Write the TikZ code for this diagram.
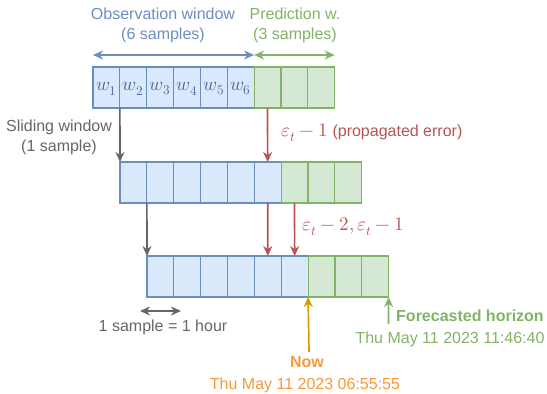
\documentclass[tikz,border=0pt]{standalone}
\usepackage{fontspec}
\setmainfont{Liberation Sans}
\usepackage{unicode-math}
\setmathfont{Latin Modern Math}
\usetikzlibrary{arrows.meta}
\definecolor{obsfill}{HTML}{DAE8FC}
\definecolor{obsline}{HTML}{6C8EBF}
\definecolor{predfill}{HTML}{D5E8D4}
\definecolor{predline}{HTML}{82B366}
\definecolor{errred}{HTML}{B85450}
\definecolor{nowline}{HTML}{D79B00}
\definecolor{nowtext}{HTML}{F59A3C}
\definecolor{greytxt}{HTML}{666666}
\definecolor{wtxt}{HTML}{4F6A9A}
\newcommand{\bigmath}[1]{{\fontsize{19}{20}\selectfont$#1$}}
\tikzset{
  cellbase/.style={minimum width=26.85pt, minimum height=41pt, inner sep=0pt, outer sep=0pt, line width=1.2pt},
  obscell/.style={cellbase, draw=obsline, fill=obsfill},
  predcell/.style={cellbase, draw=predline, fill=predfill},
  arr/.style={line width=1.7pt, -{Stealth[length=10pt,width=9pt]}},
  dblarr/.style={line width=1.7pt, {Stealth[length=10pt,width=9pt]}-{Stealth[length=10pt,width=9pt]}},
  lbl/.style={font=\fontsize{16}{20}\selectfont, inner sep=0pt, align=center},
}
\begin{document}
\begin{tikzpicture}[x=1pt, y=-1pt]
\useasboundingbox (0,0) rectangle (547,394);
% three rows of nine cells, each shifted by one sample
\foreach \r/\xs/\yc in {1/93/87.5, 2/120/182.5, 3/147/276.5} {
  \foreach \c in {1,...,6}
    \node[obscell] (r\r c\c) at ({\xs+26.85*(\c-0.5)}, \yc) {};
  \foreach \c in {7,8,9}
    \node[predcell] (r\r c\c) at ({\xs+26.85*(\c-0.5)}, \yc) {};
}
% sample labels in the first window
\foreach \c in {1,...,6}
  \node[text=wtxt, inner sep=0pt] at ([yshift=-1]r1c\c) {\bigmath{w_{\c}}};

% window extents
\draw[dblarr, draw=obsline] ([yshift=12]r1c1.north west) coordinate (obsA) -- ([yshift=12]r1c6.north east) coordinate (obsB);
\draw[dblarr, draw=predline] ([yshift=12]r1c7.north west) coordinate (predA) -- ([yshift=12]r1c9.north east) coordinate (predB);
\node[lbl, text=obsline] (obslbl) at (163,25) {Observation window\\(6 samples)};
\node[lbl, text=predline] (predlbl) at (295,25) {Prediction w.\\(3 samples)};

% sliding of the window
\draw[arr, draw=greytxt] (r1c1.south east) -- (r2c1.north west);
\draw[arr, draw=greytxt] (r2c1.south east) -- (r3c1.north west);
\node[lbl, text=greytxt] (slide) at (59,137) {Sliding window\\(1 sample)};

% error propagation
\draw[arr, draw=errred] (r1c7.south) -- (r2c6.north);
\draw[arr, draw=errred] (r2c6.south) -- (r3c5.north);
\draw[arr, draw=errred] (r2c7.south) -- (r3c6.north);
\node[lbl, text=errred, anchor=west] (err1) at (281,133) {\bigmath{\varepsilon_t-1} (propagated error)};
\node[lbl, text=errred, anchor=west] (err2) at (302,227) {\bigmath{\varepsilon_t-2,\varepsilon_t-1}};

% sample duration
\coordinate (durA) at (140,311);
\coordinate (durB) at (181,311);
\draw[dblarr, draw=greytxt] (durA) -- (durB);
\node[lbl, text=greytxt] (dur) at (163,327.5) {1 sample = 1 hour};

% current time
\coordinate (nowfoot) at (309,352);
\draw[arr, draw=nowline] (nowfoot) -- (r3c6.south east);
\node[lbl, text=nowtext, font=\fontsize{16}{20}\selectfont\bfseries] (now) at (307,362) {Now};
\node[lbl, text=nowtext] (nowdate) at (305,385) {Thu May 11 2023 06:55:55};

% forecast horizon
\coordinate (horfoot) at (388.5,324);
\draw[arr, draw=predline] (horfoot) -- (r3c9.south east);
\node[lbl, text=predline, font=\fontsize{16}{20}\selectfont\bfseries, anchor=west] (hor) at (396,316) {Forecasted horizon};
\node[lbl, text=predline] (hordate) at (450,339.5) {Thu May 11 2023 11:46:40};
\end{tikzpicture}
\end{document}
